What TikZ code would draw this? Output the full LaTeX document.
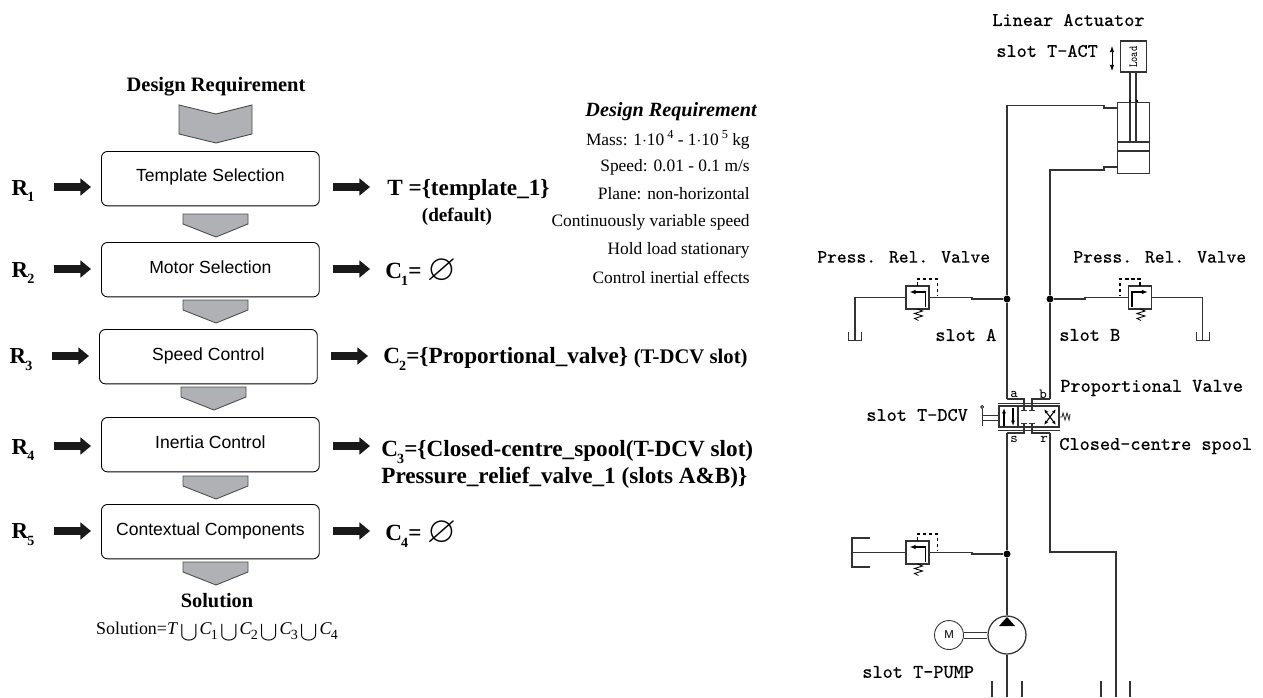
\documentclass[tikz,border=0pt]{standalone}
\usepackage{amsmath, amssymb}
\usepackage{fontspec}
\setmainfont{Liberation Serif}
\setsansfont{Liberation Sans}
\newfontfamily\slotfont{Latin Modern Mono}[FakeBold=0.5]
\usepackage{tikz}
\usetikzlibrary{positioning,arrows.meta}
\definecolor{chevgray}{RGB}{176,177,180}
\newcommand{\lowsub}[1]{\kern-0.5pt\raisebox{-0.3em}{\fontsize{8}{8}\selectfont #1}}
\newcommand{\lowcup}{\kern1pt\raisebox{-3.5pt}{\scalebox{1.55}{$\cup$}}\kern1pt}
\newcommand{\emptyslot}{\raisebox{-1pt}{\scalebox{1.6}{$\varnothing$}}}
\tikzset{
  stepbox/.style={draw, rounded corners=3.5pt, line width=0.5pt, minimum width=124pt, minimum height=31pt, font=\sffamily\fontsize{10}{12}\selectfont, anchor=north west, inner sep=0pt},
  chev/.style={draw=black!70, fill=chevgray, line width=0.5pt},
  blockarrow/.style={-{Triangle[length=6pt,width=9.5pt]}, line width=4.5pt, draw=black!90},
  reqlabel/.style={font=\bfseries\fontsize{13}{14}\selectfont, inner sep=0pt},
  outlabel/.style={font=\bfseries\fontsize{13.2}{15.4}\selectfont, inner sep=0pt, anchor=west, align=left},
  reqline/.style={font=\fontsize{9.9}{11}\selectfont, inner sep=0pt, anchor=east},
  pipe/.style={line width=0.7pt, draw=black!80},
  thinpipe/.style={line width=0.5pt, draw=black!80},
  slotlabel/.style={font=\slotfont\fontsize{11}{12}\selectfont, inner sep=0pt, anchor=west},
  portlabel/.style={font=\ttfamily\fontsize{8}{8}\selectfont, inner sep=0pt},
  junction/.style={circle, fill=black, inner sep=0pt, minimum size=4pt},
  valvebox/.style={draw=black!80, line width=0.8pt, minimum size=0.46cm, inner sep=0pt},
}
\begin{document}
\begin{tikzpicture}[x=0.02cm, y=-0.02cm]
  \useasboundingbox (0,0) rectangle (1263,697);

  % left column
  \node[font=\bfseries\fontsize{11.65}{13}\selectfont, inner sep=0pt] (req) at (216,86.5) {Design Requirement};
  \node[stepbox] (template) at (101,151) {\raisebox{4.4pt}{Template Selection}};
  \node[stepbox] (motor) at (101,242) {\raisebox{2.4pt}{Motor Selection}};
  \node[stepbox] (speed) at (99,329) {\raisebox{2.4pt}{Speed Control}};
  \node[stepbox] (inertia) at (101,417) {\raisebox{2.4pt}{Inertia Control}};
  \node[stepbox] (context) at (101,504) {\raisebox{2.4pt}{Contextual Components}};

  \draw[chev] (179,105) -- (216,114) -- (252,105) -- (252,134) -- (216,143) -- (179,134) -- cycle;
  \foreach \y/\dx in {214/0, 300/0, 387/-2, 476/0, 562/0}
    \draw[chev] (183+\dx,\y) -- (248+\dx,\y) -- (248+\dx,\y+10) -- (216+\dx,\y+23) -- (183+\dx,\y+10) -- cycle;

  \foreach \n/\y/\dx in {1/187/0, 2/269/0, 3/356/-2, 4/446/0, 5/531/0} {
    \node[reqlabel] (r\n) at (23+\dx,\y+4) {R\lowsub{\n}};
    \coordinate (ra\n) at (54+\dx,\y);
    \coordinate (rb\n) at (91+\dx,\y);
    \draw[blockarrow] (ra\n) -- (rb\n);
    \coordinate (oa\n) at (333+\dx,\y);
    \coordinate (ob\n) at (370+\dx,\y);
    \draw[blockarrow] (oa\n) -- (ob\n);
  }

  \node[outlabel] (tset) at (387,190) {T =\{template\_1\}};
  \node[font=\bfseries\fontsize{10.9}{12}\selectfont, inner sep=0pt] (default) at (457,217) {(default)};
  \node[outlabel] (c1) at (385,272) {C\lowsub{1}= \emptyslot};
  \node[outlabel] (c2) at (383,359) {C\lowsub{2}=\{Proportional\_valve\} {\fontsize{11.8}{12}\selectfont (T-DCV slot)}};
  \node[outlabel] (c3) at (381,464) {C\lowsub{3}=\{Closed-centre\_spool(T-DCV slot)\\Pressure\_relief\_valve\_1 (slots A\&B)\}};
  \node[outlabel] (c4) at (385,534) {C\lowsub{4}= \emptyslot};

  \node[font=\bfseries\fontsize{11.6}{13}\selectfont, inner sep=0pt] (sol) at (217,601) {Solution};
  \node[font=\fontsize{10.2}{12}\selectfont, inner sep=0pt] (solset) at (217,631) {Solution=\textit{T}\lowcup\textit{C}\lowsub{1}\lowcup\textit{C}\lowsub{2}\lowcup\textit{C}\lowsub{3}\lowcup\textit{C}\lowsub{4}};

  % requirement list
  \node[font=\bfseries\itshape\fontsize{11.5}{13}\selectfont, inner sep=0pt, anchor=east] (reqtitle) at (757,112) {Design Requirement};
  \node[reqline] (mass) at (750,140) {Mass: 1$\cdot$10\,\raisebox{0.4em}{\fontsize{7}{7}\selectfont 4} - 1$\cdot$10\,\raisebox{0.4em}{\fontsize{7}{7}\selectfont 5} kg};
  \node[reqline] (vel) at (750,167) {Speed: 0.01 - 0.1 m/s};
  \node[reqline] (plane) at (750,194) {Plane: non-horizontal};
  \node[reqline] (cvs) at (750,222) {Continuously variable speed};
  \node[reqline] (hold) at (750,250) {Hold load stationary};
  \node[reqline] (inert) at (750,277) {Control inertial effects};

  % circuit labels
  \node[slotlabel] (lact) at (992,20) {Linear Actuator};
  \node[slotlabel] (tact) at (996,51) {slot T-ACT};
  \node[slotlabel, font=\slotfont\fontsize{10.6}{12}\selectfont] (prv1) at (817,257) {Press. Rel. Valve};
  \node[slotlabel, font=\slotfont\fontsize{10.6}{12}\selectfont] (prv2) at (1073,257) {Press. Rel. Valve};
  \node[slotlabel] (sa) at (935,335) {slot A};
  \node[slotlabel] (sb) at (1059,335) {slot B};
  \node[slotlabel] (prop) at (1060,388) {Proportional Valve};
  \node[slotlabel] (closed) at (1059,446) {Closed-centre spool};
  \node[slotlabel] (tdcv) at (866,415) {slot T-DCV};
  \node[slotlabel] (tpump) at (862,672) {slot T-PUMP};

  % actuator
  \node[draw=black!80, line width=0.7pt, minimum width=0.53cm, minimum height=0.62cm, inner sep=0pt] (load) at (1133.5,56.5) {};
  \node[font=\ttfamily\fontsize{7}{7}\selectfont, rotate=90, inner sep=0pt] (loadtxt) at (1133.5,57) {\scalebox{0.8}[1]{Load}};
  \coordinate (updn1) at (1112,46);
  \coordinate (updn2) at (1112,71);
  \draw[{Latex[length=3.5pt]}-{Latex[length=3.5pt]}, line width=0.5pt] (updn1) -- (updn2);
  \node[draw=black!80, line width=0.7pt, minimum width=0.64cm, minimum height=1.42cm, inner sep=0pt, anchor=north west] (cyl) at (1117,102) {};
  \draw[pipe] (1130,72) -- (1130,142) (1136,72) -- (1136,142);
  \draw[pipe] (cyl.west |- 0,142) -- (cyl.east |- 0,142) (cyl.west |- 0,151) -- (cyl.east |- 0,151);
  \draw[line width=1pt] (1129,101) -- (1131,101) (1136,101) -- (1138,101);

  % pipes
  \node[junction] (ja) at (1007,299) {};
  \node[junction] (jb) at (1050,299) {};
  \node[junction] (js) at (1007,554) {};
  \coordinate (porta) at (1117,108);
  \coordinate (portb) at (1117,167);
  \coordinate (dcva) at (1007,399);
  \coordinate (dcvb) at (1050,399);
  \coordinate (dcvs) at (1007,433);
  \coordinate (dcvr) at (1050,433);
  \draw[pipe] (porta) -- (1104,108) -- (1104,105.5) -- (1007,105.5) -- (ja) -- (dcva);
  \draw[pipe] (portb) -- (1104,167) -- (1104,170) -- (1050,170) -- (jb) -- (dcvb);
  \draw[pipe] (dcvs) -- (js);

  % relief valves
  \node[valvebox] (rv1) at (917.5,297.5) {};
  \node[valvebox] (rv2) at (1140,297.5) {};
  \node[valvebox] (rv3) at (917.5,552.5) {};
  \draw[pipe] (ja) -- (972,299) -- (972,297.5) -- (rv1);
  \draw[pipe] (jb) -- (1085,299) -- (1085,297.5) -- (rv2);
  \draw[pipe] (js) -- (972,554) -- (972,552.5) -- (rv3);
  \draw[pipe] (rv1) -- (855,297.5) -- (855,340);
  \draw[pipe] (rv2) -- (1202.5,297.5) -- (1202.5,340);
  \draw[pipe] (rv3) -- (852,552.5);
  \draw[pipe] (870,538) -- (852,538) -- (852,567) -- (870,567);
  \draw[thinpipe] (848.5,332) -- (848.5,340.5) -- (861.5,340.5) -- (861.5,332);
  \draw[thinpipe] (1196.5,332) -- (1196.5,340.5) -- (1209,340.5) -- (1209,332);
  \foreach \xa/\ya/\sgn in {917.5/297.5/-1, 1140/297.5/1, 917.5/552.5/-1} {
    \draw[line width=0.6pt, dash pattern=on 2pt off 1.5pt] (\xa,\ya-11.5) -- (\xa,\ya-18.5) -- (\xa-\sgn*20,\ya-18.5) -- (\xa-\sgn*20,\ya-2);
    \draw[line width=0.7pt, -{Latex[length=3.5pt]}] (\xa-\sgn*8,\ya+9) -- (\xa-\sgn*8,\ya-5.5) -- (\xa+\sgn*8,\ya-5.5);
    \draw[line width=0.5pt] (\xa,\ya+11.5) -- ++(5,2) -- ++(-8,2.5) -- ++(8,2.5) -- ++(-8,2.5) -- ++(4,2);
  }

  % proportional valve
  \node[draw=black!80, line width=0.7pt, minimum width=1.2cm, minimum height=0.42cm, inner sep=0pt] (dcv) at (1029,416.5) {};
  \coordinate (stuba) at (1024,410);
  \coordinate (stubb) at (1032,410);
  \coordinate (stubs) at (1024,423);
  \coordinate (stubr) at (1032,423);
  \draw[thinpipe] (998,403) -- (1060,403) (998,430) -- (1060,430);
  \draw[pipe] (dcva) -- (1024,399) -- (stuba);
  \draw[pipe] (dcvb) -- (1032,399) -- (stubb);
  \draw[pipe] (dcvs) -- (1024,433) -- (stubs);
  \draw[pipe] (dcvr) -- (1032,433) -- (stubr);
  \draw[thinpipe] (1021,410) -- (1027,410) (1029,410) -- (1035,410) (1021,423) -- (1027,423) (1029,423) -- (1035,423);
  \draw[pipe] (1018,406) -- (1018,427);
  \draw[line width=0.6pt, -{Latex[length=3pt]}] (1004,426) -- (1004,408);
  \draw[line width=0.6pt, -{Latex[length=3pt]}] (1013,408) -- (1013,426);
  \draw[line width=0.6pt, {Latex[length=2.5pt]}-{Latex[length=2.5pt]}] (1044,409) -- (1056,425);
  \draw[line width=0.6pt, {Latex[length=2.5pt]}-{Latex[length=2.5pt]}] (1056,409) -- (1044,425);
  \draw[thinpipe] (982,415) -- (999,415) (982,420) -- (999,420) (982,409) -- (982,426);
  \draw[line width=0.4pt] (982,407) circle (1.5);
  \draw[thinpipe] (1059,417) -- (1062,417) -- (1063,413) -- (1065,420) -- (1067,413) -- (1069,420) -- (1070,414);
  \node[portlabel] (pa) at (1014,394) {a};
  \node[portlabel] (pb) at (1043,394) {b};
  \node[portlabel] (ps) at (1014,439) {s};
  \node[portlabel] (pr) at (1044,439) {r};

  % pump and motor
  \node[circle, draw=black!80, line width=0.7pt, minimum size=0.76cm, inner sep=0pt] (pump) at (1007,635) {};
  \node[circle, draw=black!80, line width=0.5pt, minimum size=0.58cm, inner sep=0pt, font=\sffamily\fontsize{6.5}{6.5}\selectfont] (mot) at (949,635) {M};
  \draw[thinpipe] ([yshift=0.06cm]mot.east) -- ([yshift=0.06cm]pump.west) ([yshift=-0.06cm]mot.east) -- ([yshift=-0.06cm]pump.west);
  \coordinate (pumpout) at (1007,697);
  \coordinate (tankb) at (1116,697);
  \draw[pipe] (js) -- (pump);
  \draw[pipe] (pump) -- (pumpout);
  \draw[pipe] (dcvr) -- (1050,552) -- (1116,552) -- (tankb);
  \fill (999,626) -- (1007,617) -- (1015,626) -- cycle;
  \foreach \xp in {992, 1022, 1101, 1130}
    \draw[pipe] (\xp,681) -- (\xp,697);
\end{tikzpicture}
\end{document}
